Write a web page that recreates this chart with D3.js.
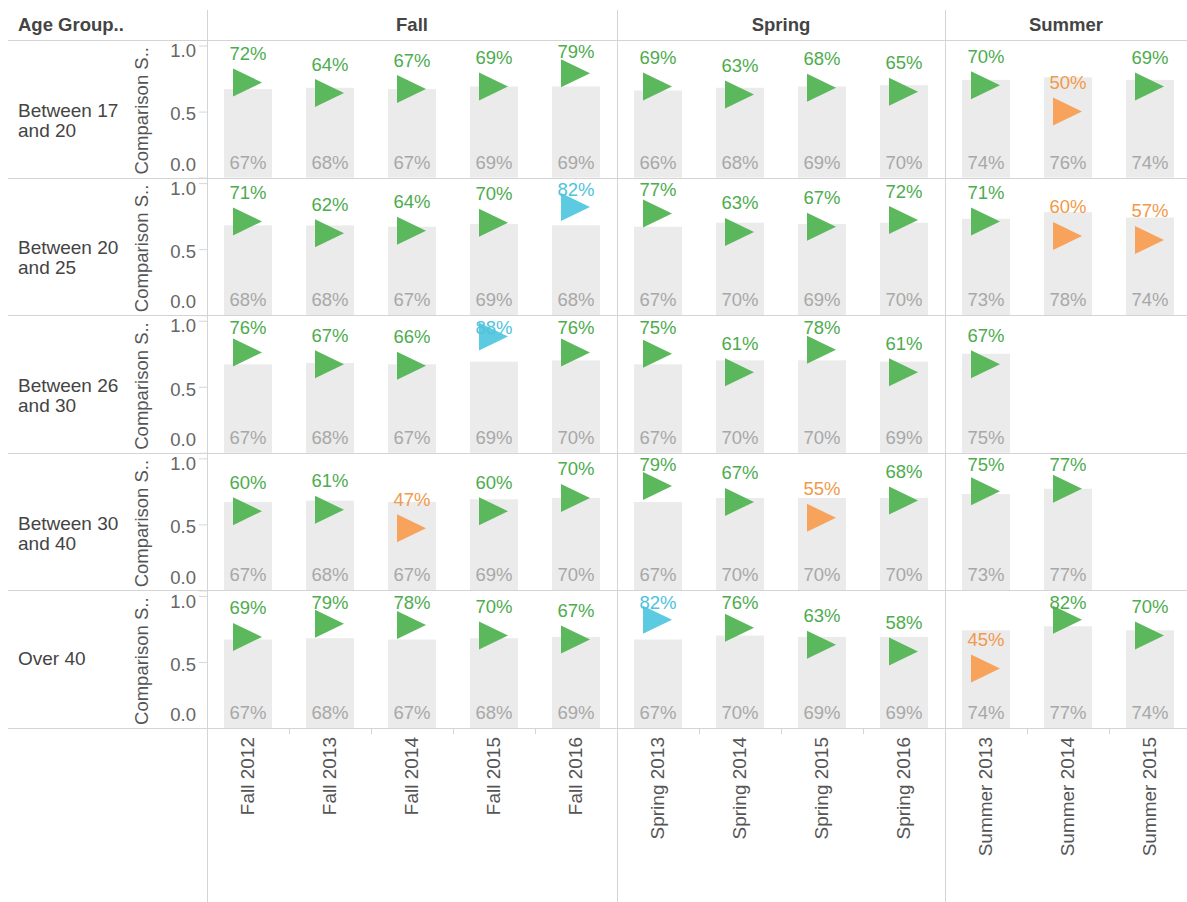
<!DOCTYPE html>
<html>
<head>
<meta charset="utf-8">
<script src="https://cdn.jsdelivr.net/npm/d3@7"></script>
<style>
body { margin: 0; background: #fff; font-family: "Liberation Sans", Arial, sans-serif; }
</style>
</head>
<body>
<div id="chart-area"></div>
<script>
// terms along the columns, age groups down the rows
var terms = ["Fall 2012", "Fall 2013", "Fall 2014", "Fall 2015", "Fall 2016",
             "Spring 2013", "Spring 2014", "Spring 2015", "Spring 2016",
             "Summer 2013", "Summer 2014", "Summer 2015"];
var seasons = ["Fall", "Spring", "Summer"];
var ageGroups = ["Between 17 and 20", "Between 20 and 25", "Between 26 and 30", "Between 30 and 40", "Over 40"];
var ageLines = [["Between 17", "and 20"], ["Between 20", "and 25"], ["Between 26", "and 30"], ["Between 30", "and 40"], ["Over 40"]];

// actual success % (triangles)
var actual = [
    [72, 64, 67, 69, 79, 69, 63, 68, 65, 70, 50, 69],
    [71, 62, 64, 70, 82, 77, 63, 67, 72, 71, 60, 57],
    [76, 67, 66, 88, 76, 75, 61, 78, 61, 67, null, null],
    [60, 61, 47, 60, 70, 79, 67, 55, 68, 75, 77, null],
    [69, 79, 78, 70, 67, 82, 76, 63, 58, 45, 82, 70]
];
// comparison success % (gray bars)
var comparison = [
    [67, 68, 67, 69, 69, 66, 68, 69, 70, 74, 76, 74],
    [68, 68, 67, 69, 68, 67, 70, 69, 70, 73, 78, 74],
    [67, 68, 67, 69, 70, 67, 70, 70, 69, 75, null, null],
    [67, 68, 67, 69, 70, 67, 70, 70, 70, 73, 77, null],
    [67, 68, 67, 68, 69, 67, 70, 69, 69, 74, 77, 74]
];
var yTicks = [0, 0.5, 1.0];

var width = 1187, height = 902;
var paneLeft = 207, colW = 82;

var svg = d3.select("#chart-area")
    .append("svg")
        .attr("width", width)
        .attr("height", height);

var xScale = d3.scaleBand()
    .domain(terms)
    .range([paneLeft, paneLeft + colW * terms.length]);

var rowScale = d3.scaleBand()
    .domain(ageGroups)
    .range([40, 728]);
var rowH = rowScale.bandwidth();

var yScale = d3.scaleLinear()
    .domain([0, 1.042])
    .range([rowH, 0]);

function status(a, c) {
    var d = a - c;
    if (d >= 13) return "high";
    if (d <= -13) return "low";
    return "ok";
}
var triFill = { ok: "#5cb85c", low: "#f7a35c", high: "#5ccbe2" };
var textFill = { ok: "#4dac4d", low: "#f2994a", high: "#4ec3dc" };

var barW = 48;

var rows = svg.selectAll("g.row")
    .data(ageGroups)
    .enter()
    .append("g")
        .attr("class", "row")
        .attr("transform", function(d) { return "translate(0," + rowScale(d) + ")"; });

rows.each(function(age, ri) {
    var g = d3.select(this);
    var cells = terms.map(function(t, ci) {
        return { term: t, a: actual[ri][ci], c: comparison[ri][ci] };
    }).filter(function(d) { return d.a != null; });

    g.selectAll("rect.bar")
        .data(cells)
        .enter()
        .append("rect")
            .attr("x", function(d) { return xScale(d.term) + (colW - barW) / 2; })
            .attr("y", function(d) { return yScale(d.c / 100); })
            .attr("width", barW)
            .attr("height", function(d) { return rowH - yScale(d.c / 100); })
            .attr("fill", "#ebebeb");

    g.selectAll("text.bar-label")
        .data(cells)
        .enter()
        .append("text")
            .attr("x", function(d) { return xScale(d.term) + colW / 2; })
            .attr("y", rowH - 9)
            .attr("text-anchor", "middle")
            .attr("font-size", "18.5px")
            .attr("fill", "#a8a8a8")
            .text(function(d) { return d.c + "%"; });

    g.selectAll("path.tri")
        .data(cells)
        .enter()
        .append("path")
            .attr("d", "M-15,-14L14,0L-15,14Z")
            .attr("transform", function(d) {
                return "translate(" + (xScale(d.term) + colW / 2) + "," + yScale(d.a / 100) + ")";
            })
            .attr("fill", function(d) { return triFill[status(d.a, d.c)]; });

    g.selectAll("text.val")
        .data(cells)
        .enter()
        .append("text")
            .attr("x", function(d) { return xScale(d.term) + colW / 2; })
            .attr("y", function(d) { return Math.max(yScale(d.a / 100) - 29, 12); })
            .attr("dy", "0.35em")
            .attr("text-anchor", "middle")
            .attr("font-size", "18.5px")
            .attr("fill", function(d) { return textFill[status(d.a, d.c)]; })
            .text(function(d) { return d.a + "%"; });

    // y axis for this row
    var yAxisCall = d3.axisLeft(yScale)
        .tickValues(yTicks)
        .tickSize(8)
        .tickPadding(3)
        .tickFormat(d3.format(".1f"));
    var ax = g.append("g")
        .attr("transform", "translate(" + paneLeft + ",0)")
        .call(yAxisCall);
    ax.select(".domain").remove();
    ax.selectAll("line").attr("stroke", "#d6d6d6");
    ax.selectAll("text")
        .attr("font-size", "18.5px")
        .attr("font-family", "\"Liberation Sans\", Arial, sans-serif")
        .attr("fill", "#666")
        .attr("dy", function(d) { return d === 0 ? "-0.4em" : (d === 1 ? "0.6em" : "0.45em"); });

    g.append("text")
        .attr("transform", "translate(148," + (rowH / 2 + 2) + ") rotate(-90)")
        .attr("text-anchor", "middle")
        .attr("font-size", "18.5px")
        .attr("fill", "#555")
        .text("Comparison S..");

    var lines = ageLines[ri];
    g.selectAll("text.age")
        .data(lines)
        .enter()
        .append("text")
            .attr("x", 18)
            .attr("y", function(d, i) {
                return lines.length > 1 ? rowH / 2 + 8 + i * 20 : rowH / 2 + 6;
            })
            .attr("font-size", "19px")
            .attr("fill", "#444")
            .text(function(d) { return d; });
});

// grid lines between rows
var hLines = [40].concat(ageGroups.map(function(d) { return rowScale(d) + rowH; }));
svg.selectAll("line.h")
    .data(hLines)
    .enter()
    .append("line")
        .attr("x1", 8)
        .attr("x2", width)
        .attr("y1", function(d) { return Math.round(d) + 0.5; })
        .attr("y2", function(d) { return Math.round(d) + 0.5; })
        .attr("stroke", "#d4d4d4");

// season panes
var seasonSpan = seasons.map(function(s) {
    var ts = terms.filter(function(t) { return t.split(" ")[0] === s; });
    return { name: s, x0: xScale(ts[0]), x1: xScale(ts[ts.length - 1]) + colW };
});

svg.selectAll("line.v")
    .data(seasonSpan)
    .enter()
    .append("line")
        .attr("x1", function(d) { return Math.round(d.x0) + 0.5; })
        .attr("x2", function(d) { return Math.round(d.x0) + 0.5; })
        .attr("y1", 10)
        .attr("y2", height)
        .attr("stroke", "#d4d4d4");

svg.selectAll("text.season")
    .data(seasonSpan)
    .enter()
    .append("text")
        .attr("x", function(d) { return (d.x0 + Math.min(d.x1, width)) / 2; })
        .attr("y", 31)
        .attr("text-anchor", "middle")
        .attr("font-size", "18.5px")
        .attr("font-weight", "bold")
        .attr("fill", "#444")
        .text(function(d) { return d.name; });

svg.append("text")
    .attr("x", 18)
    .attr("y", 31)
    .attr("font-size", "18.5px")
    .attr("font-weight", "bold")
    .attr("fill", "#444")
    .text("Age Group..");

// small ticks between columns inside each pane
var inner = terms.filter(function(t, i) {
    return i > 0 && t.split(" ")[0] === terms[i - 1].split(" ")[0];
});
svg.selectAll("line.xtick")
    .data(inner)
    .enter()
    .append("line")
        .attr("x1", function(d) { return Math.round(xScale(d)) + 0.5; })
        .attr("x2", function(d) { return Math.round(xScale(d)) + 0.5; })
        .attr("y1", 728)
        .attr("y2", 734)
        .attr("stroke", "#d4d4d4");

svg.selectAll("text.term")
    .data(terms)
    .enter()
    .append("text")
        .attr("transform", function(d) {
            return "translate(" + (xScale(d) + colW / 2 - 1) + ",737) rotate(-90)";
        })
        .attr("dy", "0.35em")
        .attr("text-anchor", "end")
        .attr("font-size", "19px")
        .attr("fill", "#555")
        .text(function(d) { return d; });
</script>
</body>
</html>
